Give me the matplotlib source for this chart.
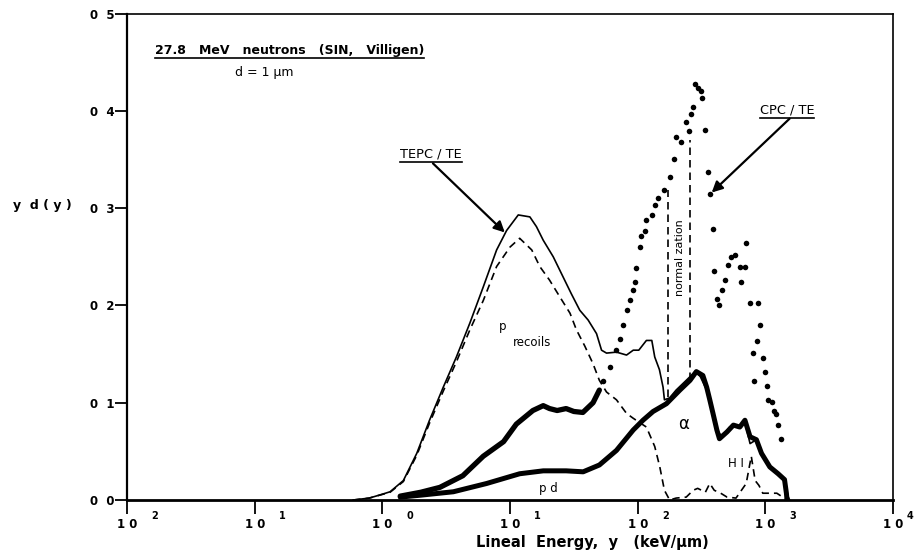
import matplotlib
matplotlib.use("Agg")
import matplotlib.pyplot as plt
from matplotlib.lines import Line2D

# TEPC / TE, tissue-equivalent proportional counter (thin solid)
tepc_y = [0.59, 0.79, 1.0, 1.15, 1.46, 1.86, 2.34, 3.0, 3.8, 4.85, 6.17, 7.85, 9.4,
          11.6, 14.3, 16.1, 18.2, 21.8, 26.1, 30.2, 35.2, 40.9, 47.6, 52.1, 57.0,
          68.2, 81.8, 92.3, 102, 117, 129, 136, 148, 158, 162, 178, 200, 240, 282,
          309, 347, 380, 417, 457, 525, 617, 692, 759, 851, 955, 1148, 1380, 1514, 1549]
tepc_yd = [0.0, 0.002, 0.006, 0.0085, 0.02, 0.048, 0.082, 0.116, 0.147, 0.182, 0.219,
           0.257, 0.277, 0.293, 0.291, 0.281, 0.267, 0.25, 0.229, 0.212, 0.195, 0.185,
           0.171, 0.154, 0.151, 0.152, 0.149, 0.154, 0.154, 0.164, 0.164, 0.147, 0.134,
           0.116, 0.103, 0.105, 0.113, 0.123, 0.132, 0.127, 0.113, 0.0925, 0.072, 0.065,
           0.075, 0.075, 0.08, 0.058, 0.062, 0.045, 0.031, 0.021, 0.003, 0.0]

# calculated proton recoil component (dashed)
prec_y = [0.59, 0.79, 1.15, 1.46, 1.86, 2.34, 3.0, 3.8, 4.85, 6.17, 7.85, 10.0, 11.9,
          14.8, 17.1, 20.4, 24.5, 29.5, 33.1, 38.6, 44.7, 50.1, 57.0, 68.2, 81.8, 92.3,
          117, 136, 149, 162, 178, 200, 240, 272, 295, 339, 367, 398, 447, 501, 589,
          708, 776, 832, 891, 955, 1230, 1479]
prec_yd = [0.0, 0.002, 0.008, 0.019, 0.046, 0.079, 0.112, 0.142, 0.175, 0.205, 0.24,
           0.26, 0.269, 0.257, 0.24, 0.226, 0.209, 0.192, 0.175, 0.158, 0.14, 0.123,
           0.111, 0.103, 0.089, 0.084, 0.075, 0.055, 0.034, 0.01, 0.0, 0.002, 0.003,
           0.01, 0.012, 0.008, 0.017, 0.01, 0.007, 0.003, 0.002, 0.017, 0.045, 0.02,
           0.015, 0.007, 0.007, 0.0]

# CPC / TE, dense low-y part (thick) and sparse high-y points (dots)
cpc_line_y = [1.38, 2.0, 2.82, 4.27, 6.17, 8.9, 11.2, 15.1, 18.2, 20.4, 23.4, 27.5,
              31.6, 37.2, 44.7, 50.1]
cpc_line_yd = [0.004, 0.008, 0.013, 0.025, 0.045, 0.060, 0.078, 0.092, 0.097, 0.094,
               0.092, 0.094, 0.091, 0.090, 0.100, 0.113]
cpc_dot_y = [53.7, 60.3, 68.2, 72.4, 77.1, 81.8, 87.1, 92.3, 95.5, 97.7, 104, 107, 114,
             117, 129, 136, 145, 162, 178, 191, 200, 219, 240, 251, 263, 269, 282, 295,
             312, 320, 339, 355, 367, 389, 398, 417, 437, 454, 479, 513, 537, 575, 631,
             692, 646, 700, 759, 871, 912, 865, 794, 955, 1000, 813, 1023, 1047, 1122,
             1175, 1202, 1259, 1337]
cpc_dot_yd = [0.122, 0.137, 0.154, 0.166, 0.18, 0.195, 0.206, 0.216, 0.224, 0.238, 0.26,
              0.271, 0.276, 0.288, 0.293, 0.303, 0.31, 0.319, 0.332, 0.351, 0.373, 0.368,
              0.389, 0.379, 0.397, 0.404, 0.428, 0.423, 0.42, 0.413, 0.38, 0.337, 0.315,
              0.279, 0.235, 0.207, 0.2, 0.216, 0.226, 0.242, 0.25, 0.252, 0.24, 0.24,
              0.224, 0.264, 0.202, 0.202, 0.18, 0.163, 0.151, 0.146, 0.132, 0.122, 0.117,
              0.103, 0.101, 0.091, 0.088, 0.077, 0.063]

# p, d + alpha + heavy ion components (thick)
pd_y = [1.38, 2.0, 3.6, 6.56, 11.9, 18.2, 27.5, 37.4, 50.1, 68.2, 92.3, 110, 132, 168,
        214, 257, 288, 324, 347, 367, 389, 417, 437, 501, 562, 631, 692, 759, 851, 933,
        1084, 1259, 1413, 1462, 1479]
pd_yd = [0.003, 0.005, 0.0085, 0.017, 0.027, 0.030, 0.030, 0.029, 0.036, 0.051, 0.072,
         0.082, 0.091, 0.099, 0.113, 0.123, 0.132, 0.128, 0.116, 0.103, 0.089, 0.072,
         0.063, 0.07, 0.077, 0.075, 0.082, 0.065, 0.062, 0.048, 0.034, 0.027, 0.021,
         0.007, 0.0]

# normalization markers: (y, bottom, top)
norm_lines = [(174, 0.106, 0.319), (257, 0.123, 0.37)]

xticks = [1e-2, 1e-1, 1e0, 1e1, 1e2, 1e3, 1e4]
xexps = ['2', '1', '0', '1', '2', '3', '4']
yticks = [0.0, 0.1, 0.2, 0.3, 0.4, 0.5]
ylabels = ['0  0', '0  1', '0  2', '0  3', '0  4', '0  5']

fig = plt.figure(figsize=(9.16, 5.59), dpi=100)
ax = fig.add_axes([0.1387, 0.1055, 0.8362, 0.8703])

dash = (0, (4.5, 3))
ax.plot(tepc_y, tepc_yd, color='k', lw=1.2)
ax.plot(prec_y, prec_yd, color='k', lw=1.2, linestyle=dash)
ax.plot(cpc_line_y, cpc_line_yd, color='k', lw=3.8, solid_capstyle='round')
ax.plot(cpc_dot_y, cpc_dot_yd, 'o', color='k', ms=4, mew=0)
ax.plot(pd_y, pd_yd, color='k', lw=3.6, solid_capstyle='round', solid_joinstyle='round')
for xn, lo, hi in norm_lines:
    ax.plot([xn, xn], [lo, hi], color='k', lw=1.2, linestyle=dash)

ax.set_xscale('log')
ax.set_xlim(1e-2, 1e4)
ax.set_ylim(0, 0.5)

ax.set_xticks(xticks)
ax.set_xticklabels(['1 0'] * len(xticks))
ax.minorticks_off()
ax.set_yticks(yticks)
ax.set_yticklabels(ylabels)
ax.tick_params(axis='x', direction='out', length=10, width=1.3, pad=3,
               labelsize=8.5)
ax.tick_params(axis='y', direction='out', length=8.5, width=1.3, pad=0.5,
               labelsize=8.5)
for lab in ax.get_xticklabels() + ax.get_yticklabels():
    lab.set_fontweight('bold')

# exponents sit to the upper right of each "1 0"
for t, e in zip(xticks, xexps):
    dx = 20 if t < 1e4 else 12
    ax.annotate(e, xy=(t, 0), xycoords=('data', 'axes fraction'), xytext=(dx, -11.5),
                textcoords='offset points', fontsize=7, fontweight='bold',
                ha='center', va='center', annotation_clip=False)

ax.spines['left'].set_linewidth(1.6)
ax.spines['bottom'].set_linewidth(2.0)
ax.spines['top'].set_linewidth(1.2)
ax.spines['right'].set_linewidth(1.2)

fig.text(42 / 916, 1 - 206 / 559, 'y  d ( y )', fontsize=9, fontweight='bold',
         ha='center', va='center')
fig.text(592 / 916, 1 - 542 / 559, 'Lineal  Energy,  y   (keV/\u00b5m)', fontsize=10.5,
         fontweight='bold', ha='center', va='center')

title = ax.text(0.0165, 0.458, '27.8   MeV   neutrons   (SIN,   Villigen)', fontsize=9,
                fontweight='bold', ha='left', va='baseline')
ax.text(0.070, 0.436, 'd = 1 \u00b5m', fontsize=9, ha='left', va='baseline')

tepc_lab = ax.text(2.4, 0.352, 'TEPC / TE', fontsize=9.3, ha='center', va='baseline')
ax.annotate('', xy=(9.1, 0.275), xytext=(2.49, 0.346),
            arrowprops=dict(arrowstyle='-|>', color='k', lw=1.6, mutation_scale=16,
                            shrinkA=0, shrinkB=0))
cpc_lab = ax.text(1480, 0.397, 'CPC / TE', fontsize=9.3, ha='center', va='baseline')
ax.annotate('', xy=(380, 0.316), xytext=(1550, 0.392),
            arrowprops=dict(arrowstyle='-|>', color='k', lw=1.6, mutation_scale=16,
                            shrinkA=0, shrinkB=0))

ax.text(8.8, 0.178, 'p', fontsize=8.5, ha='center', va='center')
ax.text(14.8, 0.162, 'recoils', fontsize=8.5, ha='center', va='center')
ax.text(20, 0.0123, 'p d', fontsize=8.5, ha='center', va='center')
ax.text(229, 0.078, '\u03b1', fontsize=12, ha='center', va='center')
ax.text(590, 0.038, 'H I', fontsize=8.5, ha='center', va='center')
ax.text(214, 0.249, 'normal zation', fontsize=8, rotation=90, ha='center', va='center')


def underline(txt, lw=1.2, gap=1):
    fig.canvas.draw()
    bb = txt.get_window_extent()
    inv = fig.transFigure.inverted()
    (x0, y0), (x1, _) = inv.transform([(bb.x0, bb.y0 - gap), (bb.x1, bb.y0 - gap)])
    fig.add_artist(Line2D([x0, x1], [y0, y0], transform=fig.transFigure,
                          color='k', lw=lw))


underline(title)
underline(tepc_lab)
underline(cpc_lab)

fig.savefig('out.png', dpi=100)
